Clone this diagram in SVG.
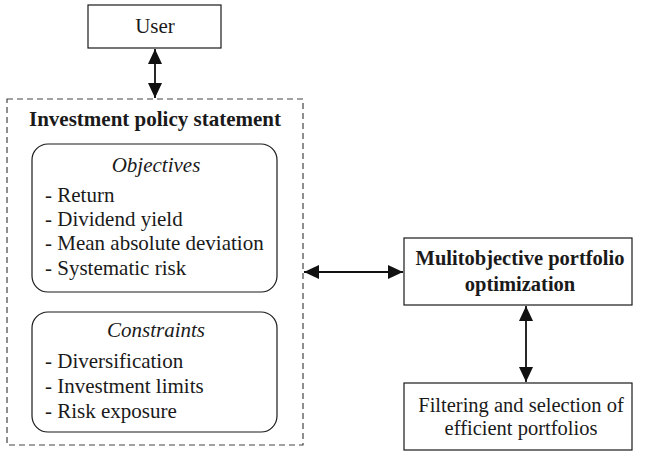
<svg xmlns="http://www.w3.org/2000/svg" width="652" height="452" viewBox="0 0 652 452">
  <style>
    text { font-family: "Liberation Serif", "Times New Roman", serif; font-size: 21px; fill: #1a1a1a; }
    .b { font-weight: bold; }
    .i { font-style: italic; }
    .mid { text-anchor: middle; }
    .sm { font-size: 20.5px; }
    .box { fill: #ffffff; stroke: #1a1a1a; stroke-width: 1.2; }
    .dash { fill: none; stroke: #444; stroke-width: 1.2; stroke-dasharray: 6 4; }
    .link { stroke: #111; stroke-width: 1.8; fill: none; marker-start: url(#head); marker-end: url(#head); }
  </style>
  <defs>
    <marker id="head" viewBox="0 0 15 14" refX="15" refY="7" markerWidth="15" markerHeight="14" markerUnits="userSpaceOnUse" orient="auto-start-reverse">
      <path d="M0,0 L15,7 L0,14 z" fill="#111"/>
    </marker>
  </defs>
  <rect width="652" height="452" fill="#ffffff"/>

  <g id="user">
    <rect class="box" x="88" y="5" width="133" height="43"/>
    <text class="mid" x="155" y="33">User</text>
  </g>

  <g id="policy">
    <rect class="dash" x="7" y="99" width="296" height="346"/>
    <text class="b mid" x="155" y="126">Investment policy statement</text>
  </g>

  <g id="objectives">
    <rect class="box" x="32" y="144" width="245" height="148" rx="16"/>
    <text class="i mid" x="156" y="172">Objectives</text>
    <text x="45" y="202">- Return</text>
    <text x="45" y="226">- Dividend yield</text>
    <text x="45" y="250">- Mean absolute deviation</text>
    <text x="45" y="275">- Systematic risk</text>
  </g>

  <g id="constraints">
    <rect class="box" x="32" y="312" width="245" height="120" rx="16"/>
    <text class="i mid" x="156" y="337">Constraints</text>
    <text x="45" y="368">- Diversification</text>
    <text x="45" y="393">- Investment limits</text>
    <text x="45" y="418">- Risk exposure</text>
  </g>

  <g id="optimization">
    <rect class="box" x="404" y="238" width="228" height="67"/>
    <text class="b mid sm" x="520" y="265">Mulitobjective portfolio</text>
    <text class="b mid sm" x="520" y="291">optimization</text>
  </g>

  <g id="filtering">
    <rect class="box" x="404" y="383" width="228" height="67"/>
    <text class="mid sm" x="521" y="412">Filtering and selection of</text>
    <text class="mid sm" x="521" y="435">efficient portfolios</text>
  </g>

  <g id="connectors">
    <line class="link" x1="155" y1="49" x2="155" y2="98"/>
    <line class="link" x1="304" y1="272" x2="403" y2="272"/>
    <line class="link" x1="526" y1="306" x2="526" y2="382"/>
  </g>
</svg>
